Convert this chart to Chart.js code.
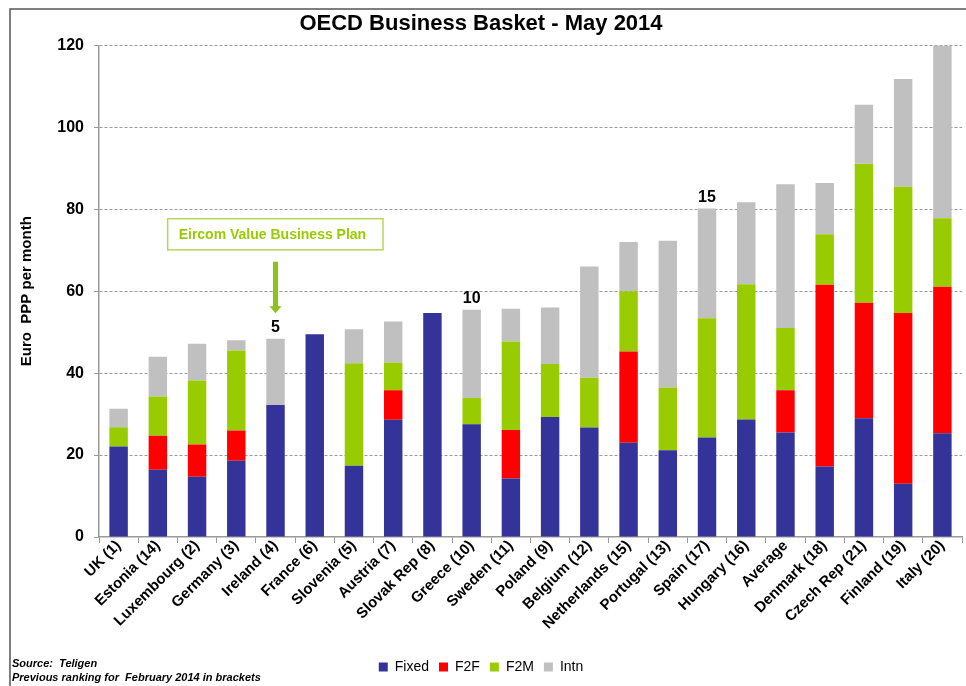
<!DOCTYPE html>
<html>
<head>
<meta charset="utf-8">
<script src="https://cdn.jsdelivr.net/npm/chart.js@4.4.1/dist/chart.umd.min.js"></script>
<style>
  html, body { margin: 0; padding: 0; background: #fff; }
  #wrap { width: 966px; height: 686px; position: relative; }
</style>
</head>
<body>
<div id="wrap"><canvas id="basketChart" width="966" height="686"></canvas></div>
<script>
const countries = ['UK (1)', 'Estonia (14)', 'Luxembourg (2)', 'Germany (3)', 'Ireland (4)', 'France (6)',
    'Slovenia (5)', 'Austria (7)', 'Slovak Rep (8)', 'Greece (10)', 'Sweden (11)', 'Poland (9)',
    'Belgium (12)', 'Netherlands (15)', 'Portugal (13)', 'Spain (17)', 'Hungary (16)', 'Average',
    'Denmark (18)', 'Czech Rep (21)', 'Finland (19)', 'Italy (20)'];

const fixedValues = [22.1, 16.4, 14.7, 18.6, 32.2, 49.5, 17.4, 28.6, 54.7, 27.5, 14.3, 29.3, 26.7, 23.0, 21.2, 24.3, 28.7, 25.5, 17.2, 29.0, 13.0, 25.3];
const f2fValues   = [0, 8.3, 7.9, 7.4, 0, 0, 0, 7.2, 0, 0, 11.8, 0, 0, 22.3, 0, 0, 0, 10.3, 44.4, 28.2, 41.7, 35.8];
const f2mValues   = [4.7, 9.6, 15.6, 19.5, 0, 0, 25.0, 6.8, 0, 6.4, 21.6, 12.9, 12.2, 14.7, 15.3, 29.1, 33.0, 15.2, 12.3, 33.9, 30.8, 16.7];
const intnValues  = [4.5, 9.7, 9.0, 2.5, 16.2, 0, 8.3, 10.0, 0, 21.6, 8.0, 13.8, 27.1, 12.0, 35.8, 26.8, 20.0, 35.1, 12.5, 14.4, 26.3, 42.2];

const yTicks = [0, 20, 40, 60, 80, 100, 120];

// current ranking markers shown above a few bars
const rankMarks = [
    { index: 4, text: '5' },
    { index: 9, text: '10' },
    { index: 15, text: '15' }
];

const totals = countries.map((c, i) => fixedValues[i] + f2fValues[i] + f2mValues[i] + intnValues[i]);

const decorPlugin = {
    id: 'decor',
    beforeDraw(chart) {
        const ctx = chart.ctx;
        ctx.save();
        ctx.strokeStyle = '#555';
        ctx.lineWidth = 1.5;
        ctx.beginPath();
        ctx.moveTo(10, 686);
        ctx.lineTo(10, 9);
        ctx.lineTo(966, 9);
        ctx.stroke();
        ctx.restore();
    },
    afterDatasetsDraw(chart) {
        const ctx = chart.ctx;
        const x = chart.scales.x;
        const y = chart.scales.y;
        ctx.save();

        ctx.fillStyle = '#000';
        ctx.font = 'bold 16px "Liberation Sans", Arial, sans-serif';
        ctx.textAlign = 'center';
        ctx.textBaseline = 'bottom';
        rankMarks.forEach(m => {
            ctx.fillText(m.text, x.getPixelForValue(m.index), y.getPixelForValue(totals[m.index]) - 3);
        });

        // Eircom callout box and arrow
        const bx1 = x.getPixelForValue(1.25);
        const bx2 = x.getPixelForValue(6.74);
        const by1 = y.getPixelForValue(77.7);
        const by2 = y.getPixelForValue(70.1);
        ctx.strokeStyle = '#b5d65a';
        ctx.lineWidth = 1.5;
        ctx.strokeRect(bx1, by1, bx2 - bx1, by2 - by1);
        ctx.fillStyle = '#99cc00';
        ctx.font = 'bold 14px "Liberation Sans", Arial, sans-serif';
        ctx.textAlign = 'left';
        ctx.textBaseline = 'middle';
        ctx.fillText('Eircom Value Business Plan', bx1 + 11, (by1 + by2) / 2 + 1);

        const ax = x.getPixelForValue(4);
        const ayTop = y.getPixelForValue(67.2);
        const ayTip = y.getPixelForValue(54.6);
        ctx.fillStyle = '#8cc21a';
        ctx.fillRect(ax - 2.5, ayTop, 5, ayTip - ayTop - 6);
        ctx.beginPath();
        ctx.moveTo(ax - 6, ayTip - 7);
        ctx.lineTo(ax + 6, ayTip - 7);
        ctx.lineTo(ax, ayTip);
        ctx.closePath();
        ctx.fill();

        // footnote
        ctx.fillStyle = '#000';
        ctx.font = 'italic bold 11px "Liberation Sans", Arial, sans-serif';
        ctx.textAlign = 'left';
        ctx.textBaseline = 'middle';
        ctx.fillText('Source:  Teligen', 12, 664);
        ctx.fillText('Previous ranking for  February 2014 in brackets', 12, 678);
        ctx.restore();
    }
};

const ctx = document.getElementById('basketChart').getContext('2d');
new Chart(ctx, {
    type: 'bar',
    data: {
        labels: countries,
        datasets: [
            { label: 'Fixed', data: fixedValues, backgroundColor: '#333399' },
            { label: 'F2F', data: f2fValues, backgroundColor: '#ff0000' },
            { label: 'F2M', data: f2mValues, backgroundColor: '#99cc00' },
            { label: 'Intn', data: intnValues, backgroundColor: '#c0c0c0' }
        ]
    },
    options: {
        responsive: false,
        animation: false,
        datasets: {
            bar: { categoryPercentage: 0.94, barPercentage: 0.5 }
        },
        layout: { padding: { left: 0, right: 4, top: 4, bottom: 2 } },
        plugins: {
            title: {
                display: true,
                text: 'OECD Business Basket - May 2014',
                color: '#000',
                font: { family: '"Liberation Sans", Arial, sans-serif', size: 22, weight: 'bold' },
                padding: { top: 7, bottom: 8 }
            },
            legend: {
                position: 'bottom',
                labels: {
                    color: '#000',
                    font: { family: '"Liberation Sans", Arial, sans-serif', size: 14 },
                    boxWidth: 9,
                    boxHeight: 9,
                    padding: 10
                }
            },
            tooltip: { enabled: false }
        },
        scales: {
            x: {
                stacked: true,
                grid: { display: true, drawOnChartArea: false, offset: true, tickLength: 6, color: '#999' },
                border: { color: '#999', width: 1.5 },
                ticks: {
                    color: '#000',
                    maxRotation: 45,
                    minRotation: 45,
                    autoSkip: false,
                    padding: -6,
                    font: { family: '"Liberation Sans", Arial, sans-serif', size: 15, weight: 'bold' }
                },
                afterFit(scale) { scale.height = 113; }
            },
            y: {
                stacked: true,
                min: 0,
                max: 120,
                afterBuildTicks(scale) { scale.ticks = yTicks.map(v => ({ value: v })); },
                grid: {
                    color: c => (c.tick && c.tick.value === 0 ? 'rgba(0,0,0,0)' : '#999'),
                    tickColor: '#999',
                    tickLength: 5,
                    tickBorderDash: []
                },
                border: { color: '#999', width: 1.5, dash: [3, 2] },
                ticks: {
                    color: '#000',
                    padding: 10,
                    font: { family: '"Liberation Sans", Arial, sans-serif', size: 16, weight: 'bold' }
                },
                title: {
                    display: true,
                    text: 'Euro  PPP per month',
                    color: '#000',
                    font: { family: '"Liberation Sans", Arial, sans-serif', size: 15, weight: 'bold' },
                    padding: { top: 18, bottom: 0 }
                },
                afterFit(scale) { scale.width = 99; }
            }
        }
    },
    plugins: [decorPlugin]
});
</script>
</body>
</html>
